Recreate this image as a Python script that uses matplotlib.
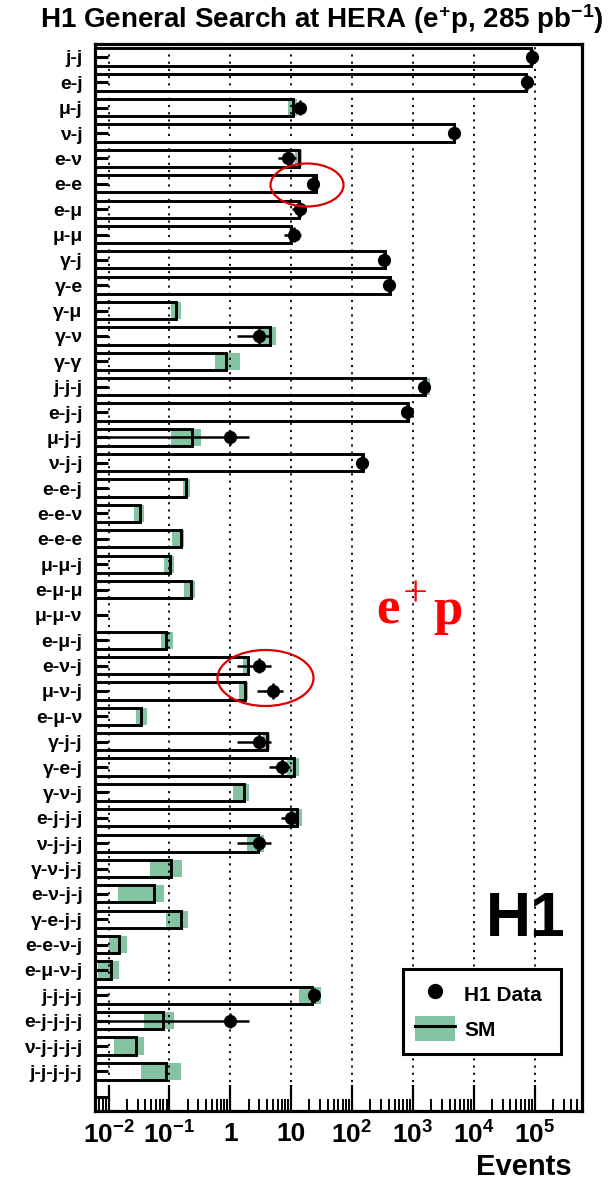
import numpy as np
import matplotlib
matplotlib.use('Agg')
import matplotlib.pyplot as plt
from matplotlib.lines import Line2D
from matplotlib.patches import Patch, Ellipse
from matplotlib.ticker import LogLocator, NullFormatter, FixedLocator, FixedFormatter

plt.rcParams['font.family'] = ['Liberation Sans', 'DejaVu Sans']
plt.rcParams['font.weight'] = 'bold'
plt.rcParams['mathtext.fontset'] = 'custom'
plt.rcParams['mathtext.rm'] = 'Liberation Sans:bold'
plt.rcParams['mathtext.it'] = 'Liberation Sans:bold'
plt.rcParams['mathtext.bf'] = 'Liberation Sans:bold'

# event classes (top to bottom)
classes = ['j-j', 'e-j', 'μ-j', 'ν-j', 'e-ν', 'e-e', 'e-μ', 'μ-μ', 'γ-j', 'γ-e',
           'γ-μ', 'γ-ν', 'γ-γ', 'j-j-j', 'e-j-j', 'μ-j-j', 'ν-j-j', 'e-e-j', 'e-e-ν',
           'e-e-e', 'μ-μ-j', 'e-μ-μ', 'μ-μ-ν', 'e-μ-j', 'e-ν-j', 'μ-ν-j', 'e-μ-ν',
           'γ-j-j', 'γ-e-j', 'γ-ν-j', 'e-j-j-j', 'ν-j-j-j', 'γ-ν-j-j', 'e-ν-j-j',
           'γ-e-j-j', 'e-e-ν-j', 'e-μ-ν-j', 'j-j-j-j', 'e-j-j-j-j', 'ν-j-j-j-j',
           'j-j-j-j-j']

# SM expectation and its uncertainty band
sm_expected = [8.6e4, 7.2e4, 10.8, 4800, 13.5, 25.5, 13.5, 10.1, 351, 419,
               0.128, 4.46, 0.84, 1585, 828, 0.234, 149, 0.185, 0.0328,
               0.153, 0.104, 0.224, np.nan, 0.0883, 1.92, 1.75, 0.0343,
               4.02, 11.3, 1.68, 12.7, 2.86, 0.107, 0.055,
               0.153, 0.015, 0.0111, 21.7, 0.0796, 0.0279,
               0.0883]
sm_low = [8.0e4, 6.8e4, 9.0, 4500, 11.5, 24, 12.5, 9.4, 330, 400,
          0.107, 3.2, 0.57, 1400, 780, 0.107, 140, 0.167, 0.0266,
          0.110, 0.082, 0.172, np.nan, 0.0727, 1.63, 1.41, 0.0279,
          3.5, 8.7, 1.09, 9.8, 1.89, 0.048, 0.0143,
          0.0895, 0.0103, 0.0066, 13.7, 0.038, 0.0125,
          0.0337]
sm_high = [9.2e4, 7.6e4, 12.6, 5100, 15.0, 27, 14.5, 10.8, 375, 440,
           0.153, 5.73, 1.43, 1920, 880, 0.325, 160, 0.215, 0.038,
           0.177, 0.117, 0.268, np.nan, 0.115, 2.13, 1.92, 0.0434,
           4.46, 13.5, 2.07, 15.2, 3.62, 0.162, 0.082,
           0.202, 0.0201, 0.015, 30.5, 0.117, 0.039,
           0.153]

# observed H1 events
h1_data = [90000, 74000, 14, 4670, 9, 23, 14, 11, 331, 406,
           0, 3, 0, 1540, 791, 1, 144, 0, 0,
           0, 0, 0, 0, 0, 3, 5, 0,
           3, 7, 0, 10, 3, 0, 0,
           0, 0, 0, 24, 1, 0,
           0]

tick_vals = [1e-2, 1e-1, 1, 10, 1e2, 1e3, 1e4, 1e5]
tick_labels = ['$10^{-2}$', '$10^{-1}$', '1', '10', '$10^{2}$', '$10^{3}$', '$10^{4}$', '$10^{5}$']

XMIN, XMAX = 0.006, 6e5
GREEN = '#84c4a2'
W, H = 610, 1182

fig = plt.figure(figsize=(W / 100, H / 100), dpi=100)
ax = fig.add_axes([95 / W, 1 - 1110.7 / H, 487 / W, 1066.4 / H])
ax.set_xscale('log')

y = np.arange(len(classes))
sm = np.array(sm_expected)
lo = np.array(sm_low)
hi = np.array(sm_high)
ok = ~np.isnan(sm)

# uncertainty band, then SM bar outline
ax.barh(y[ok], hi[ok] - lo[ok], left=lo[ok], height=0.68, color=GREEN,
        edgecolor='none', zorder=1)
ax.barh(y[ok], sm[ok] - XMIN, left=XMIN, height=0.68, facecolor='none',
        edgecolor='black', linewidth=2.1, zorder=2)

# data points
n = np.array(h1_data, dtype=float)
has = n > 0
err_lo = n[has] - np.maximum(n[has] - np.sqrt(n[has]), XMIN * 0.5)
err_hi = np.sqrt(n[has])
ax.errorbar(n[has], y[has], xerr=[err_lo, err_hi], yerr=0.3, fmt='o',
            color='black', markersize=8.5, elinewidth=1.8, capsize=0, zorder=5)

ax.set_xlim(XMIN, XMAX)
ax.set_ylim(41.55, -0.5)

# axes styling
for s in ax.spines.values():
    s.set_linewidth(2.3)
ax.set_axisbelow(False)
ax.grid(axis='x', which='major', color='black', linestyle=(0, (1.2, 2.8)),
        linewidth=1.3)
ax.xaxis.set_major_locator(FixedLocator(tick_vals))
ax.xaxis.set_major_formatter(FixedFormatter(tick_labels))
ax.xaxis.set_minor_locator(LogLocator(base=10, subs=np.arange(2, 10), numticks=20))
ax.xaxis.set_minor_formatter(NullFormatter())
ax.tick_params(axis='x', which='major', direction='in', length=19, width=1.6,
               labelsize=19, pad=8, top=False)
ax.tick_params(axis='x', which='minor', direction='in', length=9, width=1.4, top=False)

ax.set_yticks(list(y) + [len(classes)])
ax.set_yticklabels(classes + [''])
ax.tick_params(axis='y', which='both', direction='in', length=9.5, width=2.2,
               labelsize=14, pad=9, right=False)
ax.yaxis.set_minor_locator(FixedLocator([]))

# legend
h_data = Line2D([], [], marker='o', color='black', linestyle='none', markersize=10)
h_sm = (Patch(facecolor=GREEN, edgecolor='none'), Line2D([], [], color='black', linewidth=2.2))
leg = ax.legend([h_data, h_sm], ['H1 Data', 'SM'], loc='lower left',
                bbox_to_anchor=(0.632, 0.0532, 0.325, 0.0825), mode='expand',
                borderaxespad=0, fancybox=False, edgecolor='black', framealpha=1,
                prop=dict(size=15, weight='bold'), handlelength=1.9,
                handleheight=1.5, labelspacing=0.45, borderpad=0.6,
                handletextpad=0.45)
leg.get_frame().set_linewidth(2.2)
leg.set_zorder(6)

# texts
fig.text(322 / W, 1 - 28 / H, 'H1 General Search at HERA (e$^{+}$p, 285 pb$^{-1}$)',
         ha='center', va='baseline', fontsize=20, fontweight='bold')
fig.text(572 / W, 1 - 1175 / H, 'Events', ha='right', va='baseline',
         fontsize=21, fontweight='bold')
fig.text(486 / W, 1 - 936 / H, 'H1', ha='left', va='baseline',
         fontsize=45, fontweight='bold')
fig.text(376 / W, 1 - 624 / H, 'e', ha='left', va='baseline', color='red',
         fontsize=38, fontweight='bold', family='Liberation Serif')
fig.text(415 / W, 1 - 596 / H, '+', ha='center', va='center', color='red',
         fontsize=32, fontweight='normal', family='Liberation Serif')
fig.text(433 / W, 1 - 624 / H, 'p', ha='left', va='baseline', color='red',
         fontsize=38, fontweight='bold', family='Liberation Serif')

# highlighted classes
for cx, cy, w, h in [(307, 185, 73, 43), (265.5, 678, 96, 56)]:
    fig.patches.append(Ellipse((cx / W, 1 - cy / H), w / W, h / H,
                               transform=fig.transFigure, fill=False,
                               edgecolor='#dd0000', linewidth=1.6))

fig.savefig('out.png', dpi=100)
